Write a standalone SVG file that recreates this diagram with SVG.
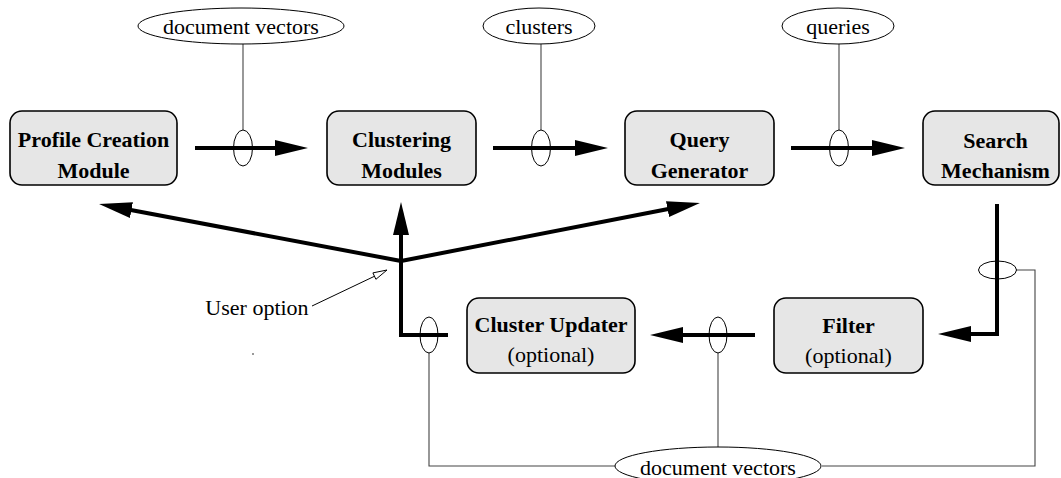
<svg xmlns="http://www.w3.org/2000/svg" width="1061" height="478" viewBox="0 0 1061 478">
<style>
text{font-family:'Liberation Serif','Times New Roman',Tinos,'DejaVu Serif',serif}
.box{fill:#e6e6e6;stroke:#000;stroke-width:1.6}
.bt{font-size:22px;font-weight:bold;text-anchor:middle;fill:#000}
.rt{font-size:22px;text-anchor:middle;fill:#000}
.lab{fill:#fff;stroke:#000;stroke-width:1}
.tap{fill:none;stroke:#000;stroke-width:1}
.thick{fill:none;stroke:#000;stroke-width:4}
.thin{fill:none;stroke:#444;stroke-width:1.1}
</style>
<defs>
<marker id="ah" markerUnits="userSpaceOnUse" markerWidth="34" markerHeight="18" refX="2" refY="8" orient="auto">
<path d="M0,0 L33,8 L0,16 z" fill="#000"/>
</marker>
</defs>
<rect width="1061" height="478" fill="#fff"/>
<g id="connectors">
<path class="thick" d="M195,148 H277" marker-end="url(#ah)"/>
<path class="thick" d="M493,148 H577" marker-end="url(#ah)"/>
<path class="thick" d="M791,148 H874" marker-end="url(#ah)"/>
<path class="thick" d="M997,204 V334 H969" marker-end="url(#ah)"/>
<path class="thick" d="M755,335 H681" marker-end="url(#ah)"/>
<path class="thick" d="M448,335 H401 V261"/>
<path class="thick" d="M401,261 L129.5,209.7" marker-end="url(#ah)"/>
<path class="thick" d="M401,261 V233" marker-end="url(#ah)"/>
<path class="thick" d="M401,261 L669.5,208.8" marker-end="url(#ah)"/>
<path class="thin" d="M243,44 V130"/>
<path class="thin" d="M541,44 V130"/>
<path class="thin" d="M839,44 V130"/>
<path class="thin" d="M429,353 V466 H615"/>
<path class="thin" d="M718,353 V447"/>
<path class="thin" d="M822,466 H1035 V270 H1016"/>
<ellipse class="tap" cx="243" cy="148" rx="9.5" ry="18"/>
<ellipse class="tap" cx="541" cy="148" rx="9.5" ry="18"/>
<ellipse class="tap" cx="839" cy="148" rx="9.5" ry="18"/>
<ellipse class="tap" cx="429" cy="335" rx="9" ry="18"/>
<ellipse class="tap" cx="718" cy="335" rx="9" ry="18"/>
<ellipse class="tap" cx="997.5" cy="270" rx="19" ry="9"/>
<path d="M312,306 L375,276" stroke="#000" stroke-width="1" fill="none"/>
<polygon points="387,270 375.9,279.3 372.9,272.9" fill="#fff" stroke="#000" stroke-width="1"/>
</g>
<g id="label-doc-vectors-top">
<ellipse class="lab" cx="241" cy="26" rx="103" ry="18"/>
<text class="rt" x="241" y="34">document vectors</text>
</g>
<g id="label-clusters">
<ellipse class="lab" cx="539" cy="26" rx="56" ry="18"/>
<text class="rt" x="539" y="34">clusters</text>
</g>
<g id="label-queries">
<ellipse class="lab" cx="838" cy="26" rx="56" ry="18"/>
<text class="rt" x="838" y="34">queries</text>
</g>
<g id="label-doc-vectors-bottom">
<ellipse class="lab" cx="718" cy="466" rx="103" ry="19"/>
<text class="rt" x="718" y="475">document vectors</text>
</g>
<g id="user-option">
<text class="rt" x="257" y="315">User option</text>
</g>
<g id="profile-creation">
<rect class="box" x="10" y="111" width="167" height="74" rx="12"/>
<text class="bt" x="93.5" y="147">Profile Creation</text>
<text class="bt" x="93.5" y="178">Module</text>
</g>
<g id="clustering">
<rect class="box" x="327" y="111" width="149" height="74" rx="12"/>
<text class="bt" x="401.5" y="147">Clustering</text>
<text class="bt" x="401.5" y="178">Modules</text>
</g>
<g id="query-generator">
<rect class="box" x="625" y="111" width="149" height="74" rx="12"/>
<text class="bt" x="699.5" y="147">Query</text>
<text class="bt" x="699.5" y="178">Generator</text>
</g>
<g id="search">
<rect class="box" x="923" y="111" width="136" height="74" rx="12"/>
<text class="bt" x="995.5" y="148">Search</text>
<text class="bt" x="995.5" y="178">Mechanism</text>
</g>
<g id="cluster-updater">
<rect class="box" x="467" y="298" width="168" height="75" rx="12"/>
<text class="bt" x="551" y="332">Cluster Updater</text>
<text class="rt" x="551" y="362">(optional)</text>
</g>
<g id="filter">
<rect class="box" x="774" y="298" width="149" height="75" rx="12"/>
<text class="bt" x="848.5" y="333">Filter</text>
<text class="rt" x="848.5" y="363">(optional)</text>
</g>
<rect x="252" y="353" width="2" height="2" fill="#999"/>
</svg>
